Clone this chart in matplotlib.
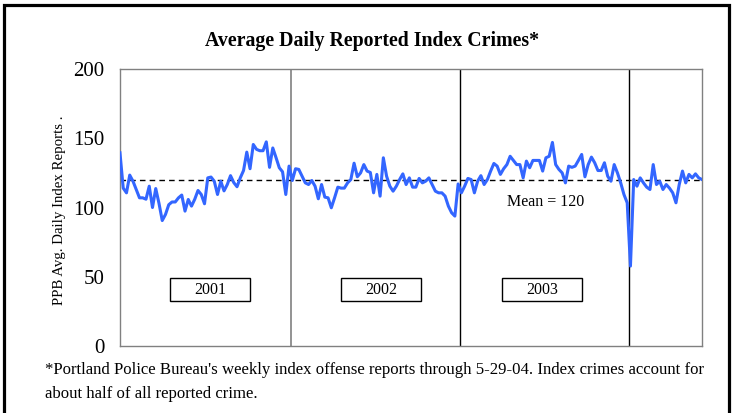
import matplotlib
matplotlib.use("Agg")
import matplotlib.pyplot as plt
from matplotlib.patches import Rectangle

plt.rcParams["font.family"] = ["Liberation Serif", "DejaVu Serif"]

# weekly average daily index crime reports, Jan 2001 - May 2004
weekly_avg = [
    139.5, 114, 110.6, 123.4, 119, 113, 107, 107, 106, 115.4,
    100, 113.7, 103, 90.6, 95, 102, 104, 104, 107, 109,
    97.4, 105.8, 101, 106, 112.3, 109.4, 102.7, 121.4, 122, 119,
    109.4, 119, 112, 116.6, 123, 118, 115, 121.4, 126.7, 140,
    128, 145.5, 142, 141, 141, 147.4, 129, 143, 136, 128.7,
    125.8, 109.4, 129.9, 119.5, 128, 127.5, 122.6, 117.8, 116.6, 119.5,
    115.4, 106.3, 116.6, 107.5, 107, 99.8, 107, 114.7, 114, 114,
    117.8, 120.2, 132, 122.2, 125, 131, 126.3, 125.3, 110.6, 123.9,
    108.2, 135.9, 122.6, 115.4, 111.8, 115.4, 120.2, 124.3, 116.6, 121.4,
    114.7, 114.7, 121, 117.8, 119, 121.4, 116.6, 111.8, 110.6, 110.6,
    108.2, 101, 96.2, 93.8, 117, 110.6, 115.4, 121, 120.2, 110.6,
    119, 123, 116.6, 120.2, 126.3, 131.8, 129.9, 123.9, 128, 131,
    137, 134, 131, 131, 121.4, 133.5, 128.7, 134, 134, 134,
    126.3, 135.9, 137, 147, 131, 127.5, 125, 117.8, 129.9, 129,
    129.9, 134, 138.3, 122.2, 131, 136.4, 132.3, 126.7, 126.7, 132.3,
    122.6, 119, 131, 125, 117.8, 109.4, 103.4, 57.7, 120.2, 115.4,
    121.4, 117.8, 114.7, 113, 131, 116.6, 119, 113, 116.6, 114,
    110.6, 103.4, 116.6, 126.3, 117.8, 123.9, 121.4, 124.3, 121.4, 120.2,
]
weeks = list(range(len(weekly_avg)))

year_labels = ["2001", "2002", "2003"]
year_breaks = [52.5, 104.5, 156.5]
mean_value = 120

fig = plt.figure(figsize=(7.32, 4.13), dpi=100)
ax = fig.add_axes([0.1639, 0.1622, 0.7951, 0.6707])

ax.plot(weeks, weekly_avg, color="#3366FF", lw=2.2, zorder=3)
ax.axhline(mean_value, color="black", lw=1.0, ls=(0, (4, 3)), zorder=2)

# year separators (first one is grey in the original)
ax.axvline(year_breaks[0], color="#808080", lw=1.2, zorder=1)
for b in year_breaks[1:]:
    ax.axvline(b, color="black", lw=1.0, zorder=1)

ax.set_xlim(0, len(weekly_avg) - 1)
ax.set_ylim(0, 200)
ax.set_xticks([])
ax.set_yticks([0, 50, 100, 150, 200])
ax.tick_params(axis="y", length=0, pad=11, labelsize=15)
for sp in ax.spines.values():
    sp.set_color("#808080")
    sp.set_linewidth(1.0)

# year boxes
box_centres = [27.7, 80.3, 129.8]
for lab, cx in zip(year_labels, box_centres):
    ax.add_patch(Rectangle((cx - 12.3, 32.5), 24.6, 16.6, fill=False,
                           ec="black", lw=1.0, zorder=4))
    ax.text(cx, 40.8, lab, ha="center", va="center", fontsize=11.5, zorder=5)

ax.text(130.8, 104.2, "Mean = 120", ha="center", va="center", fontsize=11.5)

fig.text(0.508, 0.901, "Average Daily Reported Index Crimes*", ha="center",
         va="center", fontsize=14.3, fontweight="bold")
fig.text(0.081, 0.49, "PPB Avg. Daily Index Reports .", rotation=90,
         ha="center", va="center", fontsize=10.7)

fig.text(0.061, 0.104, "*Portland Police Bureau's weekly index offense reports "
         "through 5-29-04. Index crimes account for", ha="left", va="center",
         fontsize=12.1)
fig.text(0.061, 0.047, "about half of all reported crime.", ha="left",
         va="center", fontsize=12.1)

# outer frame
fig.patches.append(Rectangle((0.0055, -0.05), 0.991, 1.038, transform=fig.transFigure,
                             fill=False, ec="black", lw=2.3, clip_on=False))

fig.savefig("out.png", dpi=100)
